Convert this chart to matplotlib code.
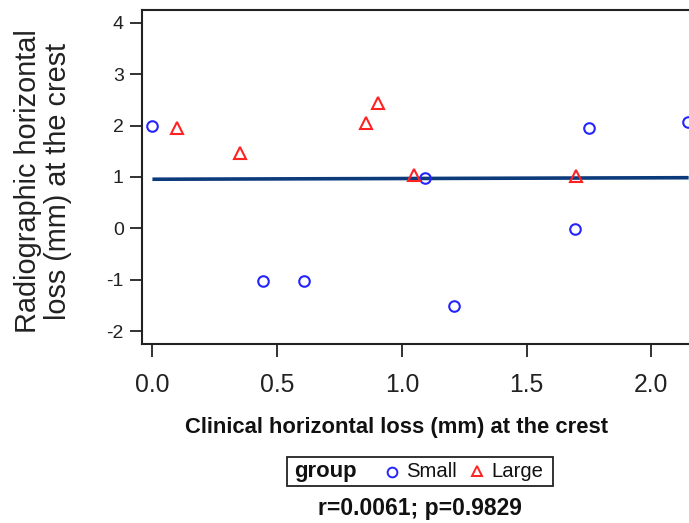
import matplotlib
matplotlib.use("Agg")
import matplotlib.pyplot as plt
from matplotlib.lines import Line2D
from matplotlib.patches import Rectangle

plt.rcParams['font.family'] = ['Liberation Sans', 'DejaVu Sans']
plt.rcParams['axes.unicode_minus'] = False

# Data
small_x = [0.00, 0.444, 0.608, 1.092, 1.210, 1.696, 1.752, 2.147]
small_y = [2.00, -1.03, -1.03, 0.98, -1.51, -0.01, 1.96, 2.06]
large_x = [0.10, 0.351, 0.855, 0.904, 1.049, 1.700]
large_y = [1.95, 1.47, 2.04, 2.44, 1.04, 1.02]
fit_x = [0.0, 2.15]
fit_y = [0.955, 0.985]
xticks = [0.0, 0.5, 1.0, 1.5, 2.0]
xticklabels = ["0.0", "0.5", "1.0", "1.5", "2.0"]
yticks = [-2, -1, 0, 1, 2, 3, 4]
groups = ["Small", "Large"]
stat_text = "r=0.0061; p=0.9829"

W, H = 689, 523
fig = plt.figure(figsize=(W / 100, H / 100), dpi=100)
ax = fig.add_axes([141.7 / W, 1 - 344 / H, 1 - 141.7 / W + 0.002, (344 - 9.5) / H])

blue = "#2424ff"
red = "#ff2222"
navy = "#0c3b7c"

ax.plot(fit_x, fit_y, color=navy, lw=2.6, zorder=2, solid_capstyle='butt')
ax.plot(small_x, small_y, linestyle='none', marker='o', ms=7.6, mfc='none',
        mec=blue, mew=1.5, zorder=3, clip_on=False)
ax.plot(large_x, large_y, linestyle='none', marker='^', ms=8.0, mfc='none',
        mec=red, mew=1.5, zorder=3, clip_on=False)

ax.set_xlim(-0.043, 2.157)
ax.set_ylim(-2.25, 4.257)
ax.set_xticks(xticks)
ax.set_xticklabels(xticklabels)
ax.set_yticks(yticks)
ax.tick_params(axis='x', direction='out', length=9, width=1.3, pad=12,
               labelsize=17.8, colors='#222222')
ax.tick_params(axis='y', direction='out', length=9, width=1.3, pad=4,
               labelsize=14, colors='#222222')
for s in ['left', 'bottom', 'top']:
    ax.spines[s].set_linewidth(1.5)
    ax.spines[s].set_color('#222222')
ax.spines['right'].set_visible(False)

ax.set_xlabel("Clinical horizontal loss (mm) at the crest", fontsize=15.8,
              fontweight='bold', color='#111111')
ax.xaxis.set_label_coords((396 - 141.7) / (W - 141.7), -(428 - 344) / (344 - 9.5))
ax.xaxis.label.set_va('center')
fig.text(43 / W, 1 - 181 / H, "Radiographic horizontal\nloss (mm) at the crest",
         rotation=90, ha='center', va='center', fontsize=20.8,
         linespacing=1.05, color='#222222')

# Legend (manual, inline title)
fig.patches.append(Rectangle((287.3 / W, 1 - 485.7 / H), (552.7 - 287.3) / W,
                             (485.7 - 457.3) / H, transform=fig.transFigure,
                             fill=False, ec='#222222', lw=1.3))
fig.text(294 / W, 1 - 471.5 / H, "group", ha='left', va='center',
         fontsize=15.9, fontweight='bold', color='#111111')
fig.lines.append(Line2D([391.7 / W], [1 - 471.7 / H], transform=fig.transFigure,
                        marker='o', ms=7, mfc='none', mec=blue, mew=1.4,
                        linestyle='none'))
fig.text(406 / W, 1 - 471.5 / H, groups[0], ha='left', va='center',
         fontsize=14.6, color='#111111')
fig.lines.append(Line2D([476.7 / W], [1 - 471.0 / H], transform=fig.transFigure,
                        marker='^', ms=7.4, mfc='none', mec=red, mew=1.4,
                        linestyle='none'))
fig.text(491.7 / W, 1 - 471.5 / H, groups[1], ha='left', va='center',
         fontsize=14.6, color='#111111')

fig.text(420 / W, 1 - 508 / H, stat_text, ha='center', va='center',
         fontsize=16.5, fontweight='bold', color='#111111')

fig.savefig("out.png", dpi=100)
